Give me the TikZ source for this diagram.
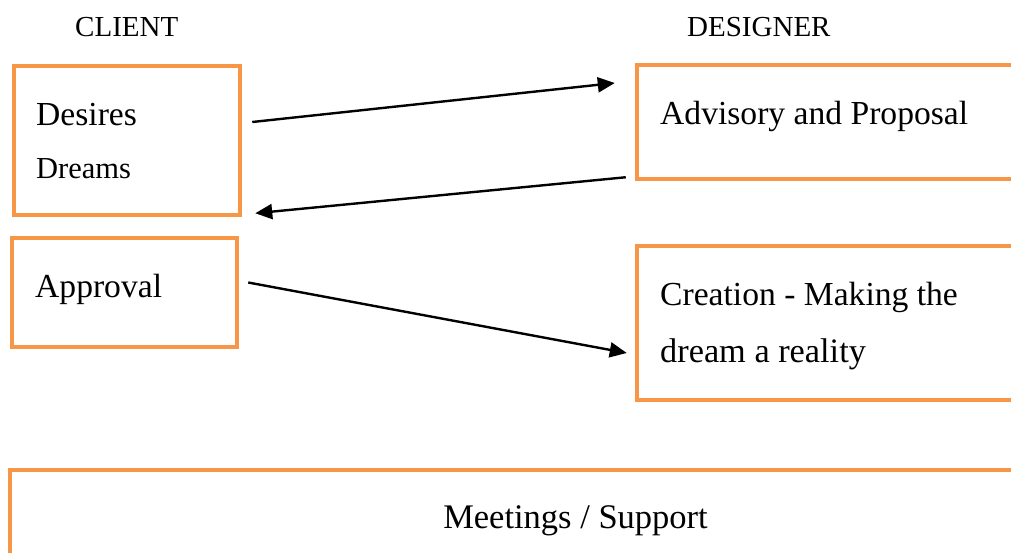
\documentclass[tikz,border=0pt]{standalone}
\usepackage{fontspec}
\setmainfont{Liberation Serif}
\usetikzlibrary{arrows.meta,calc}
\definecolor{boxorange}{HTML}{F79646}
\begin{document}
\begin{tikzpicture}[x=1pt,y=-1pt,
  box/.style={draw=boxorange, line width=4.5pt, fill=white, inner sep=0pt},
  label/.style={anchor=base west, inner sep=0pt, font=\fontsize{33.6}{40}\selectfont},
  heading/.style={anchor=base west, inner sep=0pt, font=\fontsize{29}{34}\selectfont},
  flow/.style={line width=2.4pt, -{Triangle[length=17pt,width=15pt]}}]
\useasboundingbox (0,0) rectangle (1011,552);
\clip (0,0) rectangle (1011,552);

% column headings
\node[heading] (client) at (75,36) {CLIENT};
\node[heading] (designer) at (687,36) {DESIGNER};

% client side
\node[box, minimum width=226pt, minimum height=149pt] (desires) at (127,140.5) {};
\node[label] (desirestxt) at (36,125) {Desires};
\node[label, font=\fontsize{30.5}{36}\selectfont] (dreamstxt) at (36,178) {Dreams};

\node[box, minimum width=225pt, minimum height=109pt] (approval) at (124.5,292.5) {};
\node[label] (approvaltxt) at (35,297) {Approval};

% designer side
\node[box, minimum width=377pt, minimum height=114pt] (advisory) at (825.5,122) {};
\node[label] (advisorytxt) at (660,124) {Advisory and Proposal};

\node[box, minimum width=377pt, minimum height=154pt] (creation) at (825.5,323) {};
\node[label] (creationtxt) at (660,305) {Creation - Making the};
\node[label, font=\fontsize{34.3}{40}\selectfont] (realitytxt) at (660,362) {dream a reality};

% shared band
\node[box, minimum width=1004pt, minimum height=130pt] (meetings) at (512,535) {};
\node[label, anchor=base, font=\fontsize{34.5}{40}\selectfont] (meetingstxt) at (575.5,528) {Meetings / Support};

% exchanges between client and designer
\draw[flow] ($(desires.east)+(10,-18.5)$) -- ($(advisory.west)+(-20,-39)$);
\draw[flow] ($(advisory.south west)+(-9,-4)$) -- ($(desires.south east)+(13,-4)$);
\draw[flow] ($(approval.east)+(9,-10)$) -- ($(creation.west)+(-8,30)$);
\end{tikzpicture}
\end{document}
